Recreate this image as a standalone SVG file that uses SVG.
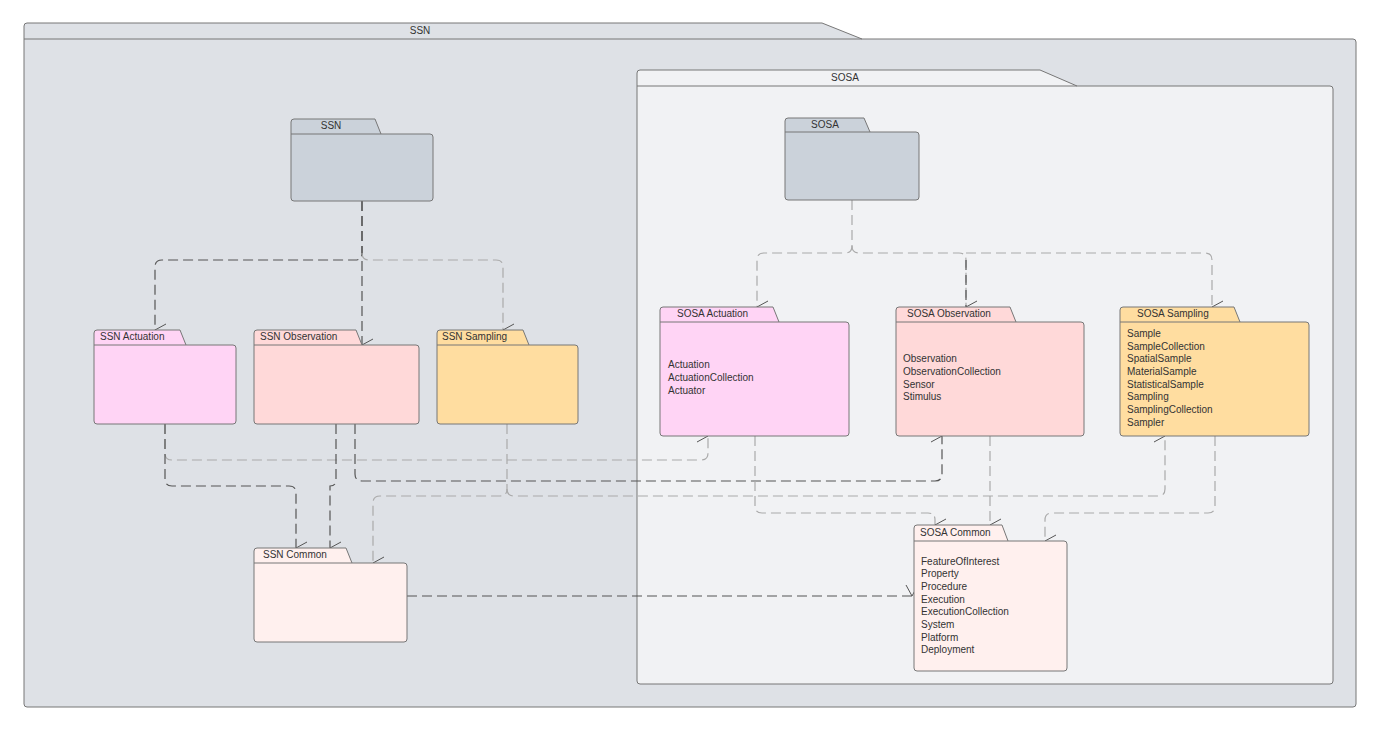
<svg xmlns="http://www.w3.org/2000/svg" width="1380" height="731" viewBox="0 0 1380 731">
<defs>
<marker id="ah" markerWidth="14" markerHeight="14" refX="7" refY="13" orient="auto-start-reverse" markerUnits="userSpaceOnUse" viewBox="0 0 14 14">
<path d="M1,2 L7,13 L13,2" fill="none" stroke="#555" stroke-width="1"/>
</marker>
<style>
text{font-family:"Liberation Sans",Arial,sans-serif;font-size:10px;fill:#333}
.f{stroke:#777;stroke-width:1}
.c{fill:none;stroke:#555;stroke-width:1.2;stroke-dasharray:10 5}
.g{stroke:#aaa}
</style>
</defs>
<rect width="1380" height="731" fill="#fff"/>
<g id="frame-ssn">
<path class="f" d="M24,39 V26 Q24,23 27,23 H822 L862,39 H1353 Q1356,39 1356,42 V704 Q1356,707 1353,707 H27 Q24,707 24,704 Z" fill="#DEE1E6"/>
<line x1="24" y1="39" x2="862" y2="39" stroke="#777"/>
<text x="420" y="34" text-anchor="middle">SSN</text>
</g>
<g id="frame-sosa">
<path class="f" d="M637,86 V73 Q637,70 640,70 H1040 L1077,86 H1330 Q1333,86 1333,89 V681 Q1333,684 1330,684 H640 Q637,684 637,681 Z" fill="#F1F2F4"/>
<line x1="637" y1="86" x2="1077" y2="86" stroke="#777"/>
<text x="845" y="81" text-anchor="middle">SOSA</text>
</g>
<g id="connectors">
<path class="c" d="M362,201 V253 Q362,260 355,260 H162 Q155,260 155,267 V330" marker-end="url(#ah)"/>
<path class="c" d="M362,201 V345" marker-end="url(#ah)"/>
<path class="c g" d="M362,253 Q362,260 369,260 H496 Q503,260 503,267 V330" marker-end="url(#ah)"/>
<path class="c g" d="M165,424 V453 Q165,460 172,460 H701 Q708,460 708,453 V436" marker-end="url(#ah)"/>
<path class="c" d="M165,424 V479 Q165,486 172,486 H289 Q296,486 296,493 V548" marker-end="url(#ah)"/>
<path class="c" d="M336,424 V480 Q336,486 330,486 V548" marker-end="url(#ah)"/>
<path class="c" d="M355,424 V474 Q355,481 362,481 H935 Q942,481 942,474 V436" marker-end="url(#ah)"/>
<path class="c g" d="M507,424 V489 Q507,496 500,496 H380 Q373,496 373,503 V563" marker-end="url(#ah)"/>
<path class="c g" d="M507,489 Q507,496 514,496 H1158 Q1165,496 1165,489 V436" marker-end="url(#ah)"/>
<path class="c" d="M407,596 H912" marker-end="url(#ah)"/>
<path class="c g" d="M852,200 V246 Q852,253 845,253 H764 Q757,253 757,260 V307" marker-end="url(#ah)"/>
<path class="c g" d="M852,246 Q852,253 859,253 H959 Q966,253 966,260 V307" marker-end="url(#ah)"/>
<path class="c" d="M966,260 V307"/>
<path class="c g" d="M966,253 H1205 Q1212,253 1212,260 V307" marker-end="url(#ah)"/>
<path class="c g" d="M755,436 V506 Q755,513 762,513 H928 Q935,513 935,520 V525" marker-end="url(#ah)"/>
<path class="c g" d="M990,436 V525" marker-end="url(#ah)"/>
<path class="c g" d="M1215,436 V506 Q1215,513 1208,513 H1052 Q1045,513 1045,520 V541" marker-end="url(#ah)"/>
</g>
<g id="ssn">
<path class="f" d="M291,134 V122 Q291,119 294,119 H375 L381,134 H430 Q433,134 433,137 V198 Q433,201 430,201 H294 Q291,201 291,198 Z" fill="#CBD2DA"/>
<line x1="291" y1="134" x2="381" y2="134" stroke="#777"/>
<text x="331" y="129" text-anchor="middle">SSN</text>
</g>
<g id="sosa">
<path class="f" d="M785,132 V121 Q785,118 788,118 H864 L870,132 H916 Q919,132 919,135 V197 Q919,200 916,200 H788 Q785,200 785,197 Z" fill="#CBD2DA"/>
<line x1="785" y1="132" x2="870" y2="132" stroke="#777"/>
<text x="825" y="128" text-anchor="middle">SOSA</text>
</g>
<g id="ssn-actuation">
<path class="f" d="M94,345 V333 Q94,330 97,330 H180 L186,345 H233 Q236,345 236,348 V421 Q236,424 233,424 H97 Q94,424 94,421 Z" fill="#FFD4F5"/>
<line x1="94" y1="345" x2="186" y2="345" stroke="#777"/>
<text x="100" y="340">SSN Actuation</text>
</g>
<g id="ssn-observation">
<path class="f" d="M254,345 V333 Q254,330 257,330 H356 L362,345 H416 Q419,345 419,348 V421 Q419,424 416,424 H257 Q254,424 254,421 Z" fill="#FFD9D9"/>
<line x1="254" y1="345" x2="362" y2="345" stroke="#777"/>
<text x="260" y="340">SSN Observation</text>
</g>
<g id="ssn-sampling">
<path class="f" d="M437,345 V333 Q437,330 440,330 H523 L529,345 H575 Q578,345 578,348 V421 Q578,424 575,424 H440 Q437,424 437,421 Z" fill="#FFDDA0"/>
<line x1="437" y1="345" x2="529" y2="345" stroke="#777"/>
<text x="442" y="340">SSN Sampling</text>
</g>
<g id="ssn-common">
<path class="f" d="M254,563 V551 Q254,548 257,548 H346 L352,563 H404 Q407,563 407,566 V639 Q407,642 404,642 H257 Q254,642 254,639 Z" fill="#FFF0EE"/>
<line x1="254" y1="563" x2="352" y2="563" stroke="#777"/>
<text x="263" y="558">SSN Common</text>
</g>
<g id="sosa-actuation">
<path class="f" d="M660,322 V310 Q660,307 663,307 H773 L779,322 H846 Q849,322 849,325 V433 Q849,436 846,436 H663 Q660,436 660,433 Z" fill="#FFD4F5"/>
<line x1="660" y1="322" x2="779" y2="322" stroke="#777"/>
<text x="677" y="317">SOSA Actuation</text>
<text x="668" y="368">Actuation</text>
<text x="668" y="381">ActuationCollection</text>
<text x="668" y="394">Actuator</text>
</g>
<g id="sosa-observation">
<path class="f" d="M896,322 V310 Q896,307 899,307 H1010 L1016,322 H1081 Q1084,322 1084,325 V433 Q1084,436 1081,436 H899 Q896,436 896,433 Z" fill="#FFD9D9"/>
<line x1="896" y1="322" x2="1016" y2="322" stroke="#777"/>
<text x="907" y="317">SOSA Observation</text>
<text x="903" y="362">Observation</text>
<text x="903" y="375">ObservationCollection</text>
<text x="903" y="388">Sensor</text>
<text x="903" y="400">Stimulus</text>
</g>
<g id="sosa-sampling">
<path class="f" d="M1120,322 V310 Q1120,307 1123,307 H1234 L1240,322 H1306 Q1309,322 1309,325 V433 Q1309,436 1306,436 H1123 Q1120,436 1120,433 Z" fill="#FFDDA0"/>
<line x1="1120" y1="322" x2="1240" y2="322" stroke="#777"/>
<text x="1137" y="317">SOSA Sampling</text>
<text x="1127" y="337">Sample</text>
<text x="1127" y="350">SampleCollection</text>
<text x="1127" y="362">SpatialSample</text>
<text x="1127" y="375">MaterialSample</text>
<text x="1127" y="388">StatisticalSample</text>
<text x="1127" y="400">Sampling</text>
<text x="1127" y="413">SamplingCollection</text>
<text x="1127" y="426">Sampler</text>
</g>
<g id="sosa-common">
<path class="f" d="M914,541 V528 Q914,525 917,525 H1002 L1008,541 H1064 Q1067,541 1067,544 V668 Q1067,671 1064,671 H917 Q914,671 914,668 Z" fill="#FFF0EE"/>
<line x1="914" y1="541" x2="1008" y2="541" stroke="#777"/>
<text x="920" y="536">SOSA Common</text>
<text x="921" y="565">FeatureOfInterest</text>
<text x="921" y="577">Property</text>
<text x="921" y="590">Procedure</text>
<text x="921" y="603">Execution</text>
<text x="921" y="615">ExecutionCollection</text>
<text x="921" y="628">System</text>
<text x="921" y="641">Platform</text>
<text x="921" y="653">Deployment</text>
</g>
</svg>
